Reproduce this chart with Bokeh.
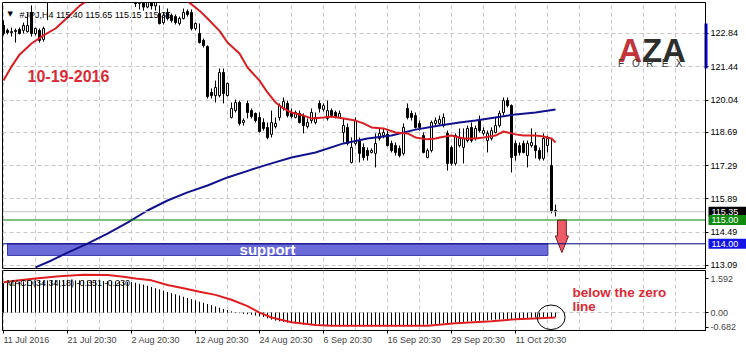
from bokeh.plotting import figure
from bokeh.layouts import column, row
from bokeh.models import (ColumnDataSource, FixedTicker, Range1d, Label, Span, Spacer,
                          PrintfTickFormatter, CustomJSTickFormatter)
from bokeh.embed import file_html
from bokeh.resources import INLINE

FONT = "Liberation Sans"

# ---------------- data ----------------
opens = [123.18, 122.97, 122.88, 122.92, 123.01, 122.97, 122.92, 123.72, 122.84, 122.97,
         122.59, 124.40, 124.95, 125.20, 125.05, 125.60, 125.45, 125.80, 125.65, 125.95,
         126.10, 125.75, 125.50, 125.85, 125.70, 125.35, 125.60, 125.15, 125.30, 124.95,
         125.10, 124.75, 124.85, 124.45, 124.10, 124.40, 123.95, 124.35, 124.00, 123.68,
         123.30, 123.72, 123.60, 123.55, 123.26, 123.47, 123.76, 123.72, 123.05, 122.84,
         122.55, 122.29, 120.36, 120.23, 120.23, 121.20, 120.23, 119.31, 119.60, 119.94,
         119.10, 119.90, 119.60, 119.48, 119.31, 119.10, 118.89, 118.60, 118.93, 119.31,
         119.69, 119.90, 119.52, 119.31, 119.48, 119.39, 118.93, 119.18, 119.10, 119.90,
         119.65, 119.27, 119.60, 119.52, 119.31, 118.68, 118.89, 117.42, 118.22, 118.34,
         118.05, 117.92, 117.84, 117.80, 118.43, 118.55, 118.60, 118.22, 118.13, 118.01,
         117.80, 119.69, 119.48, 119.39, 119.06, 118.55, 117.63, 117.92, 119.06, 119.06,
         118.97, 118.64, 118.05, 117.38, 118.13, 118.05, 118.34, 118.89, 118.43, 119.18,
         118.64, 118.34, 118.43, 118.68, 118.97, 119.52, 120.02, 119.81, 118.22, 118.13,
         118.22, 117.71, 118.13, 118.13, 117.92, 117.59, 118.13, 117.29, 115.40]
highs = [123.39, 123.05, 123.09, 123.05, 123.09, 123.30, 123.68, 124.02, 123.09, 123.05,
         123.13, 125.10, 125.40, 125.55, 125.70, 126.00, 125.90, 126.20, 126.10, 126.40,
         126.35, 126.05, 125.95, 126.25, 125.90, 125.80, 125.85, 125.45, 125.55, 125.35,
         125.30, 125.00, 125.05, 124.70, 124.60, 124.55, 124.50, 124.60, 124.30, 124.02,
         123.72, 123.89, 123.68, 123.64, 123.55, 123.89, 123.85, 123.85, 123.30, 123.26,
         122.63, 122.34, 120.53, 120.86, 121.37, 121.37, 120.78, 119.94, 120.06, 120.02,
         119.27, 120.02, 119.69, 119.52, 119.52, 119.27, 119.10, 119.60, 119.31, 119.90,
         120.15, 120.02, 119.69, 119.60, 119.60, 119.48, 119.27, 119.69, 119.52, 120.02,
         119.90, 120.02, 119.69, 119.60, 119.60, 119.27, 119.06, 118.47, 119.31, 118.47,
         118.22, 118.05, 118.01, 118.64, 118.85, 118.85, 118.76, 118.34, 118.26, 118.13,
         119.06, 119.90, 119.60, 119.52, 119.18, 118.68, 118.01, 119.18, 119.31, 119.39,
         119.48, 118.76, 118.13, 118.64, 118.85, 118.85, 118.97, 119.10, 118.97, 119.39,
         118.89, 118.76, 118.89, 119.31, 119.60, 120.15, 120.15, 119.86, 118.34, 118.26,
         118.34, 118.34, 118.85, 118.68, 118.05, 118.64, 118.55, 118.43, 115.65]
lows = [122.76, 122.80, 122.71, 122.46, 122.80, 122.84, 122.88, 122.71, 122.76, 122.46,
        122.50, 123.40, 124.70, 124.90, 124.95, 125.30, 125.20, 125.50, 125.40, 125.70,
        125.60, 125.35, 125.30, 125.60, 125.20, 125.10, 125.00, 124.80, 124.85, 124.70,
        124.60, 124.45, 124.35, 123.95, 123.85, 123.80, 123.90, 123.85, 123.80, 123.22,
        123.22, 123.39, 123.30, 123.22, 123.18, 123.43, 123.55, 122.97, 122.97, 122.42,
        122.25, 120.11, 120.11, 119.94, 120.15, 119.90, 120.19, 119.27, 119.52, 118.97,
        118.97, 119.27, 119.27, 119.10, 118.68, 118.76, 118.39, 118.47, 118.85, 119.18,
        119.60, 119.31, 119.27, 119.27, 119.06, 118.64, 118.85, 119.06, 119.02, 119.52,
        119.56, 119.18, 119.31, 119.27, 119.27, 118.26, 118.13, 117.38, 118.13, 117.42,
        117.50, 117.50, 117.80, 117.21, 118.34, 118.43, 118.09, 117.84, 117.71, 117.63,
        117.71, 119.23, 119.18, 118.85, 118.76, 117.80, 117.59, 117.84, 118.97, 118.97,
        118.89, 117.08, 117.29, 117.29, 118.05, 117.38, 118.26, 118.26, 118.34, 118.68,
        118.55, 117.84, 118.34, 118.64, 118.89, 119.39, 119.73, 117.00, 117.50, 117.71,
        117.80, 117.21, 118.05, 117.59, 117.50, 117.50, 117.84, 115.28, 115.15]
closes = [122.84, 122.88, 122.92, 122.97, 122.84, 123.18, 123.18, 122.84, 123.05, 122.55,
          123.05, 124.95, 125.20, 125.05, 125.60, 125.45, 125.80, 125.65, 125.95, 126.10,
          125.75, 125.50, 125.85, 125.70, 125.35, 125.60, 125.15, 125.30, 124.95, 125.10,
          124.75, 124.85, 124.50, 124.10, 124.40, 123.95, 124.35, 124.00, 124.15, 123.26,
          123.60, 123.47, 123.39, 123.30, 123.47, 123.72, 123.64, 123.05, 123.26, 122.46,
          122.34, 120.19, 120.23, 120.57, 121.20, 120.32, 120.74, 119.69, 119.94, 119.06,
          119.18, 119.52, 119.35, 119.18, 118.72, 118.85, 118.47, 119.10, 119.06, 119.81,
          119.98, 119.39, 119.35, 119.52, 119.10, 118.97, 119.10, 119.52, 119.31, 119.69,
          119.81, 119.60, 119.39, 119.31, 119.48, 118.97, 118.22, 118.05, 119.18, 117.80,
          117.63, 117.71, 117.92, 118.22, 118.64, 118.68, 118.13, 117.92, 117.84, 117.71,
          118.89, 119.31, 119.31, 118.89, 118.89, 117.84, 117.92, 119.10, 119.18, 119.23,
          119.31, 117.38, 117.38, 118.55, 118.43, 118.43, 118.85, 118.34, 118.85, 118.76,
          118.76, 118.64, 118.76, 118.97, 119.48, 120.02, 119.81, 117.63, 117.71, 117.84,
          117.84, 118.22, 118.26, 117.92, 117.59, 118.43, 118.43, 115.40, 115.35]

ma_fast_bars = [0, 2, 4, 7, 10, 13, 16, 19, 21, 25, 30, 35, 40, 44, 46, 49, 51, 54, 56, 59,
                61, 64, 66, 68, 70, 72, 75, 77, 80, 82, 85, 88, 90, 92, 95, 98, 101, 103, 106,
                108, 109, 112, 115, 118, 120, 123, 125, 126, 128, 130, 133, 135, 137, 138]
ma_fast = [120.86, 121.45, 121.95, 122.42, 122.76, 123.05, 123.51, 124.00, 124.23, 124.75,
           125.10, 125.05, 124.75, 124.40, 124.20, 123.80, 123.47, 122.95, 122.46, 122.00,
           121.41, 120.86, 120.36, 119.94, 119.69, 119.52, 119.39, 119.27, 119.31, 119.35,
           119.27, 119.18, 119.06, 118.89, 118.85, 118.68, 118.64, 118.47, 118.39, 118.43,
           118.47, 118.55, 118.43, 118.43, 118.47, 118.55, 118.72, 118.68, 118.60, 118.55,
           118.55, 118.51, 118.43, 118.26]

ma_slow_bars = [8, 12, 16, 21, 26, 31, 36, 41, 46, 51, 56, 62, 67, 72, 78, 85, 91, 97, 103,
                109, 114, 118, 123, 128, 133, 138]
ma_slow = [113.01, 113.30, 113.63, 114.01, 114.43, 114.89, 115.40, 115.82, 116.16, 116.45,
           116.79, 117.12, 117.38, 117.63, 117.84, 118.22, 118.43, 118.55, 118.80, 118.97,
           119.10, 119.18, 119.31, 119.44, 119.52, 119.65]

macd_hist = [1.38, 1.40, 1.42, 1.43, 1.45, 1.46, 1.47, 1.48, 1.49, 1.50,
             1.50, 1.51, 1.51, 1.52, 1.52, 1.52, 1.52, 1.52, 1.51, 1.51,
             1.50, 1.50, 1.49, 1.49, 1.48, 1.48, 1.47, 1.47, 1.46, 1.46,
             1.45, 1.44, 1.43, 1.40, 1.35, 1.31, 1.26, 1.20, 1.14, 1.09,
             1.03, 0.97, 0.91, 0.86, 0.80, 0.74, 0.68, 0.63, 0.57, 0.51,
             0.46, 0.40, 0.35, 0.29, 0.23, 0.17, 0.12, 0.06, 0.02, -0.03,
             -0.06, -0.08, -0.10, -0.14, -0.18, -0.21, -0.27, -0.33, -0.38, -0.41,
             -0.44, -0.47, -0.49, -0.51, -0.54, -0.56, -0.58, -0.59, -0.60, -0.61,
             -0.61, -0.62, -0.62, -0.62, -0.63, -0.63, -0.63, -0.63, -0.62, -0.62,
             -0.62, -0.63, -0.63, -0.62, -0.62, -0.62, -0.62, -0.62, -0.62, -0.62,
             -0.62, -0.61, -0.60, -0.59, -0.58, -0.57, -0.56, -0.55, -0.54, -0.53,
             -0.51, -0.50, -0.48, -0.46, -0.45, -0.43, -0.42, -0.40, -0.39, -0.38,
             -0.37, -0.36, -0.34, -0.33, -0.32, -0.31, -0.30, -0.29, -0.28, -0.27,
             -0.26, -0.25, -0.24, -0.23, -0.22, -0.22, -0.21, -0.21, -0.21]

macd_sig_bars = [0, 4, 8, 14, 20, 26, 30, 33, 37, 41, 45, 49, 53, 57, 61, 64, 67, 72, 78,
                 82, 106, 113, 122, 128, 134, 138]
macd_sig = [1.42, 1.52, 1.60, 1.70, 1.77, 1.76, 1.68, 1.60, 1.51, 1.29, 1.14, 0.98, 0.83,
            0.60, 0.30, 0.00, -0.23, -0.45, -0.58, -0.62, -0.62, -0.50, -0.40, -0.31, -0.26,
            -0.23]

date_label_bars = [0, 16, 32, 48, 64, 80, 96, 112, 128]
date_labels = ["11 Jul 2016", "21 Jul 20:30", "2 Aug 20:30", "12 Aug 20:30", "24 Aug 20:30",
               "6 Sep 20:30", "16 Sep 20:30", "29 Sep 20:30", "11 Oct 20:30"]
grid_bars = list(range(0, 176, 8))
price_ticks = [122.84, 121.44, 120.04, 118.69, 117.29, 115.89, 114.49, 113.09]
macd_ticks = [1.592, 0.0, -0.682]

last_price = 115.35
level_green = 115.00
level_support = 114.00
support_bottom = 113.51
support_bars = (1.0, 136.1)
arrow_bar = 139.6
arrow_from, arrow_head, arrow_to = 115.00, 114.33, 113.63
circle_bar, circle_val = 136.9, -0.22

scale_labels = [last_price, level_green, level_support]
scale_label_colors = ["black", "#118c11", "#1414e6"]

logo_letters = ["F", "O", "R", "E", "X"]
logo_letter_bars = [154.4, 158.1, 161.6, 165.4, 168.9]

Y0, Y1 = 112.962, 124.143
PX_PER_PRICE = 266 / (Y1 - Y0)

# ---------------- ranges ----------------
X0 = -0.25
X1 = X0 + 703 / 4.0
xr = Range1d(X0, X1)
yr = Range1d(Y0, Y1)

# ---------------- main panel ----------------
p = figure(width=746, height=270, x_range=xr, y_range=yr,
           output_backend="svg", toolbar_location=None, x_axis_location=None,
           y_axis_location="right", min_border_left=2, min_border_right=41,
           min_border_top=2, min_border_bottom=2)
p.background_fill_color = "white"
p.border_fill_color = "white"
p.outline_line_color = "black"

for g in p.xgrid:
    g.ticker = FixedTicker(ticks=grid_bars)
for g in p.ygrid:
    g.ticker = FixedTicker(ticks=price_ticks)
p.grid.grid_line_color = "#c8c8c8"
p.grid.grid_line_dash = "4 3"

ax = p.yaxis[0]
ax.ticker = FixedTicker(ticks=price_ticks)
ax.formatter = PrintfTickFormatter(format="%.2f")
ax.major_label_text_font = FONT
ax.major_label_text_font_size = "9px"
ax.major_label_text_color = "black"
ax.major_tick_out = 3
ax.major_tick_in = 0
ax.major_label_standoff = 2
ax.minor_tick_line_color = None
ax.axis_line_color = "black"
ax.major_tick_line_color = "black"

# price levels
p.add_layout(Span(location=last_price, dimension="width", line_color="#c0c0c0", line_width=1))
p.add_layout(Span(location=level_green, dimension="width", line_color="#008000", line_width=1))
p.add_layout(Span(location=level_support, dimension="width", line_color="#000080", line_width=1))

# support zone
p.quad(left=[support_bars[0]], right=[support_bars[1]], top=[level_support],
       bottom=[support_bottom], fill_color="#6a6ad8", line_color="#3c3cb0", line_width=1)

# candles
idx = list(range(len(opens)))
p.segment(x0=idx, y0=lows, x1=idx, y1=highs, line_color="black", line_width=1)
up = [i for i in idx if closes[i] >= opens[i]]
dn = [i for i in idx if closes[i] < opens[i]]
src_up = ColumnDataSource(dict(x=up, top=[closes[i] for i in up], bottom=[opens[i] for i in up]))
src_dn = ColumnDataSource(dict(x=dn, top=[opens[i] for i in dn], bottom=[closes[i] for i in dn]))
p.vbar(x="x", top="top", bottom="bottom", width=0.5, source=src_up,
       fill_color="white", line_color="black", line_width=1)
p.vbar(x="x", top="top", bottom="bottom", width=0.5, source=src_dn,
       fill_color="black", line_color="black", line_width=1)

# moving averages
p.line(ma_slow_bars, ma_slow, line_color="#12128e", line_width=2)
p.line(ma_fast_bars, ma_fast, line_color="#d81e22", line_width=2)

# blue marker on price scale (inner part)
marker_top, marker_bottom = 123.26, 121.37
p.quad(left=[X1 - 0.25], right=[X1 + 0.5], top=[marker_top], bottom=[marker_bottom],
       fill_color="#0000dd", line_color=None)

# red arrow
hw_s, hw_h = 1.1, 1.65
ax_pts = [arrow_bar - hw_s, arrow_bar + hw_s, arrow_bar + hw_s, arrow_bar + hw_h,
          arrow_bar, arrow_bar - hw_h, arrow_bar - hw_s]
ay_pts = [arrow_from, arrow_from, arrow_head, arrow_head, arrow_to, arrow_head, arrow_head]
p.patch(ax_pts, ay_pts, fill_color="#ec5d68", line_color="#7a1622", line_width=1)

# texts
p.add_layout(Label(x=66, y=113.755, text="support", text_color="white", text_font=FONT,
                   text_font_style="bold", text_font_size="15px", text_align="center",
                   text_baseline="middle"))
p.add_layout(Label(x=6.0, y=121.07, text="10-19-2016", text_color="#d92b36",
                   text_font=FONT, text_font_style="bold", text_font_size="16px",
                   text_baseline="alphabetic"))
p.add_layout(Label(x=1.0, y=123.66, text="\u25bc", text_color="black",
                   text_font="DejaVu Sans", text_font_size="7px", text_baseline="alphabetic"))
p.add_layout(Label(x=4.0, y=123.62, text="#JPJ,H4  115.40 115.65 115.15 115.35",
                   text_color="black", text_font=FONT, text_font_size="9px",
                   text_baseline="alphabetic"))
# logo
p.add_layout(Label(x=153.7, y=122.13, text="A", text_color="#c3353b", text_font=FONT,
                   text_font_style="bold", text_font_size="33px", text_baseline="alphabetic"))
p.add_layout(Label(x=159.6, y=122.13, text="ZA", text_color="#2e2e2e", text_font=FONT,
                   text_font_style="bold", text_font_size="33px", text_baseline="alphabetic"))
for t, b in zip(logo_letters, logo_letter_bars):
    p.add_layout(Label(x=b, y=121.58, text=t, text_color="#3a3a3a", text_font=FONT,
                       text_font_size="10px", text_align="center", text_baseline="alphabetic"))

# ---------------- price-scale overlay strip (level labels) ----------------
s = figure(width=41, height=270, x_range=Range1d(0, 41), y_range=yr,
           output_backend="svg", toolbar_location=None, x_axis_location=None,
           y_axis_location=None, min_border_left=0, min_border_right=0,
           min_border_top=2, min_border_bottom=2)
s.background_fill_color = None
s.border_fill_color = None
s.outline_line_color = None
s.grid.visible = False
half_box = 5.0 / PX_PER_PRICE
s.quad(left=[0], right=[2], top=[marker_top], bottom=[marker_bottom],
       fill_color="#0000dd", line_color=None)
for val, bg in zip(scale_labels, scale_label_colors):
    s.quad(left=[3], right=[41], top=[val + half_box], bottom=[val - half_box],
           fill_color=bg, line_color=None)
    s.add_layout(Label(x=6, y=val, text="%.2f" % val, text_color="white", text_font=FONT,
                       text_font_size="9px", text_baseline="middle"))

overlay = row(Spacer(width=705, height=270), s, spacing=0, margin=(-270, 0, 0, 0))

# ---------------- MACD panel ----------------
m = figure(width=746, height=82, x_range=xr, y_range=Range1d(-0.839, 1.972),
           output_backend="svg", toolbar_location=None, y_axis_location="right",
           min_border_left=2, min_border_right=41, min_border_top=0, min_border_bottom=21)
m.background_fill_color = "white"
m.border_fill_color = "white"
m.outline_line_color = "black"

for g in m.xgrid:
    g.ticker = FixedTicker(ticks=grid_bars)
for g in m.ygrid:
    g.ticker = FixedTicker(ticks=[0.0])
m.grid.grid_line_color = "#c8c8c8"
m.grid.grid_line_dash = "4 3"

may = m.yaxis[0]
may.ticker = FixedTicker(ticks=macd_ticks)
may.formatter = CustomJSTickFormatter(code="return tick == 0 ? '0.00' : tick.toFixed(3);")
may.major_label_text_font = FONT
may.major_label_text_font_size = "9px"
may.major_tick_out = 3
may.major_tick_in = 0
may.major_label_standoff = 2
may.minor_tick_line_color = None
may.axis_line_color = "black"

max_ = m.xaxis[0]
max_.ticker = FixedTicker(ticks=date_label_bars)
max_.major_label_overrides = {b: t for b, t in zip(date_label_bars, date_labels)}
max_.major_label_text_font = FONT
max_.major_label_text_font_size = "9px"
max_.major_label_orientation = -1e-6
max_.major_tick_out = 3
max_.major_tick_in = 0
max_.major_label_standoff = 6
max_.minor_tick_line_color = None
max_.axis_line_color = "black"

m.segment(x0=idx, y0=[0] * len(idx), x1=idx, y1=macd_hist, line_color="black", line_width=1)
m.line(macd_sig_bars, macd_sig, line_color="#e01e22", line_width=2)
m.ellipse(x=[circle_bar], y=[circle_val], width=7, height=1.15, fill_color=None,
          line_color="black", line_width=1)

m.add_layout(Label(x=0.75, y=1.37, text="MACD(34,34,18) -0.351 -0.230", text_color="black",
                   text_font=FONT, text_font_size="9px", text_baseline="alphabetic"))
m.add_layout(Label(x=142.25, y=0.96, text="below the zero", text_color="#d92b36",
                   text_font=FONT, text_font_style="bold", text_font_size="13.5px",
                   text_baseline="alphabetic"))
m.add_layout(Label(x=142.25, y=0.29, text="line", text_color="#d92b36",
                   text_font=FONT, text_font_style="bold", text_font_size="13.5px",
                   text_baseline="alphabetic"))

layout = column(p, overlay, m, spacing=0)
open("out.html", "w").write(file_html(layout, INLINE))
